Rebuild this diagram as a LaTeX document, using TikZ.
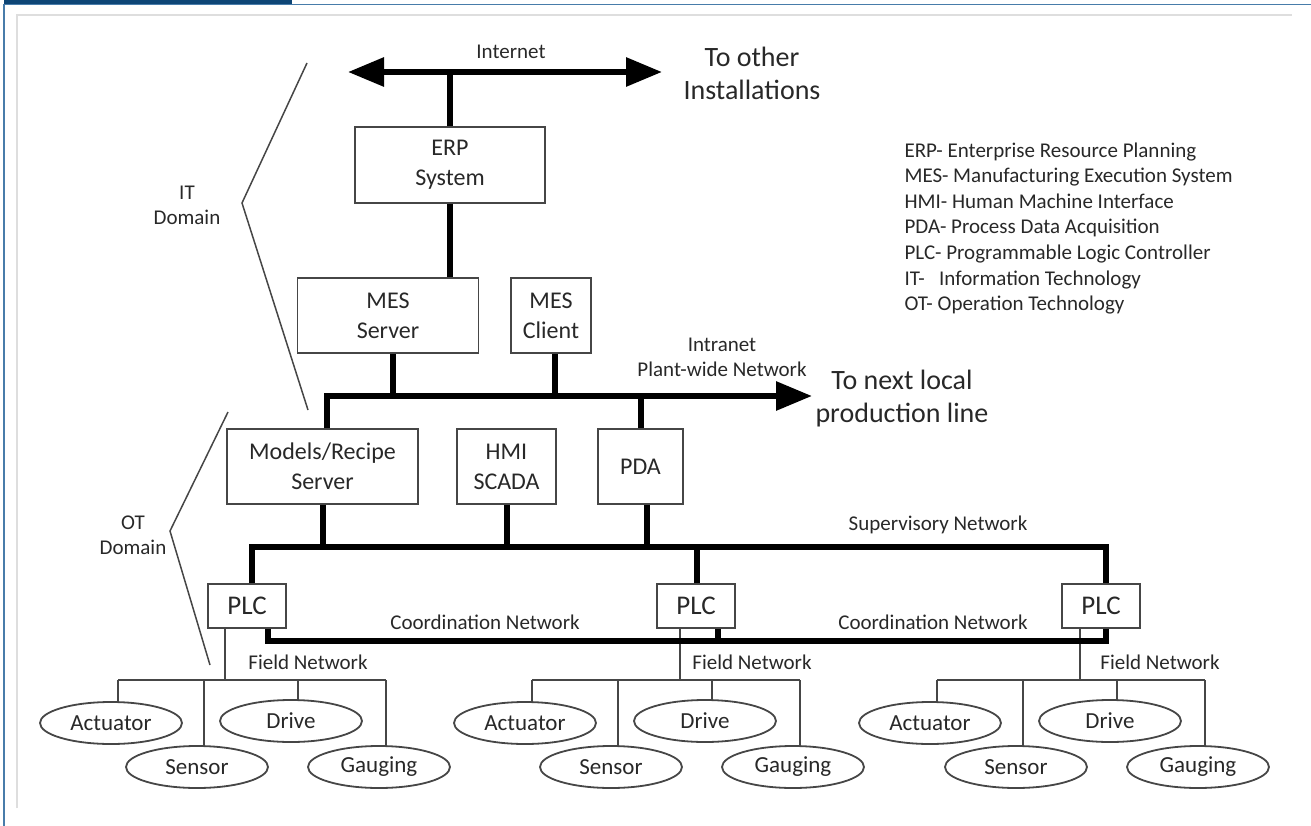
\documentclass[tikz,border=0pt]{standalone}
\usepackage{fontspec}
\setmainfont{Carlito}
\usetikzlibrary{arrows.meta,positioning,shapes.geometric}
\definecolor{navy}{RGB}{14,70,118}
\definecolor{rule}{RGB}{72,124,170}
\definecolor{frame}{RGB}{222,222,222}
\definecolor{ink}{RGB}{40,40,40}
\definecolor{edge}{RGB}{70,70,70}
\tikzset{
  >={Triangle[length=36pt,width=28pt]},
  box/.style={draw=edge,line width=1.8pt,text=ink,align=center,inner sep=0pt,
    font=\fontsize{24}{30}\selectfont},
  plc/.style={box,minimum width=78pt,minimum height=44pt,font=\fontsize{27}{30}\selectfont},
  dev/.style={ellipse,draw=edge,line width=1.8pt,text=ink,minimum width=142pt,
    minimum height=42pt,inner sep=0pt,font=\fontsize{23}{26}\selectfont},
  bus/.style={line width=6pt},
  wire/.style={draw=edge,line width=1.8pt},
  lbl/.style={text=ink,font=\fontsize{21}{25}\selectfont,align=center},
  big/.style={text=ink,font=\fontsize{28}{33}\selectfont,align=center},
  brace/.style={draw=edge,line width=1.5pt},
}
\begin{document}
\begin{tikzpicture}[x=1pt,y=-1pt]
  \useasboundingbox (0,0) rectangle (1311,826);
  % frame
  \fill[navy] (4,0) rectangle (292,5);
  \draw[rule,line width=1.5pt] (4,826) -- (4,4.5) -- (1311,4.5);
  \draw[frame,line width=2pt] (17,808) -- (17,15) -- (1292,15);
  % IT level
  \coordinate (inetL) at (348,72);
  \coordinate (inetR) at (662,72);
  \draw[bus,<->] (inetL) -- (inetR);
  \node[lbl] (inet) at (511,52) {Internet};
  \node[big] (other) at (752,73) {To other\\Installations};
  \node[box,minimum width=190pt,minimum height=76pt] (erp) at (450,165) {ERP\\System};
  \node[box,minimum width=181pt,minimum height=75pt] (messrv) at (388,315.5) {MES\\Server};
  \node[box,minimum width=80pt,minimum height=75pt] (mescli) at (551,315.5) {MES\\Client};
  \draw[bus] (erp.north) -- (erp.north |- inetL);
  \draw[bus] (erp.south) -- (erp.south |- messrv.north);
  % plant-wide network
  \node[box,minimum width=191pt,minimum height=75pt] (recipe) at (322.5,466.5) {Models/Recipe\\Server};
  \node[box,minimum width=99pt,minimum height=75pt] (hmi) at (506.5,466.5) {HMI\\SCADA};
  \node[box,minimum width=85pt,minimum height=75pt] (pda) at (640.5,466.5) {PDA};
  \coordinate (plant) at (812,396);
  \draw[bus,->] ([xshift=4pt]recipe.north) |- (plant);
  \draw[bus] ([xshift=5pt]messrv.south) -- ([xshift=5pt]messrv.south |- plant);
  \draw[bus] ([xshift=4pt]mescli.south) -- ([xshift=4pt]mescli.south |- plant);
  \draw[bus] (pda.north) -- (pda.north |- plant);
  \node[lbl] (intra) at (722,357) {Intranet\\Plant-wide Network};
  \node[big] (next) at (902,399) {To next local\\production line};
  % legend
  \foreach \t [count=\i] in {ERP- Enterprise Resource Planning,
      MES- Manufacturing Execution System, HMI- Human Machine Interface,
      PDA- Process Data Acquisition, PLC- Programmable Logic Controller,
      IT-\ \ \ Information Technology, OT- Operation Technology}
    \node[lbl,anchor=base west] (leg\i) at (901,{132+25.5*\i}) {\t};
  % domains
  \draw[brace] (307,63) -- (242,203) -- (308,410);
  \draw[brace] (228,412) -- (170,531) -- (210,665);
  \node[lbl] (itdom) at (187,205) {IT\\Domain};
  \node[lbl] (otdom) at (133,535) {OT\\Domain};
  % PLCs and field level
  \foreach \g/\p/\f/\a in {A/247/225/118, B/696/680/532, C/1101/1080/937}{
    \node[plc] (plc\g) at (\p,606) {PLC};
    \coordinate (fb\g) at (\f,680);
    \draw[wire] (plc\g.south -| fb\g) -- (fb\g);
    \node[dev] (act\g) at ({\a-7},723) {Actuator};
    \node[dev] (sen\g) at ({\a+79},767) {Sensor};
    \node[dev] (drv\g) at ({\a+173},721) {Drive};
    \node[dev] (gau\g) at ({\a+261},767) {Gauging};
    \foreach \d/\n in {0/act,86/sen,180/drv,268/gau}{
      \coordinate (t\n\g) at ({\a+\d},680);
      \draw[wire] (t\n\g) -- (t\n\g |- \n\g.north);
    }
    \draw[wire] (tact\g) -- (tgau\g);
  }
  \node[lbl] (fnA) at (308,662) {Field Network};
  \node[lbl] (fnB) at (752,662) {Field Network};
  \node[lbl] (fnC) at (1160,662) {Field Network};
  % supervisory network
  \coordinate (sup) at (0,547);
  \draw[bus] ([xshift=5pt]plcA.north) |- ([xshift=5pt]plcC.north |- sup) -- ([xshift=5pt]plcC.north);
  \draw[bus] ([xshift=1pt]plcB.north) -- ([xshift=1pt]plcB.north |- sup);
  \draw[bus] (recipe.south) -- (recipe.south |- sup);
  \draw[bus] (hmi.south) -- (hmi.south |- sup);
  \draw[bus] ([xshift=6pt]pda.south) -- ([xshift=6pt]pda.south |- sup);
  \node[lbl] (supl) at (938,525) {Supervisory Network};
  % coordination network
  \coordinate (crd) at (0,641);
  \draw[bus] ([xshift=21pt]plcA.south) |- ([xshift=5pt]plcC.south |- crd) -- ([xshift=5pt]plcC.south);
  \draw[bus] ([xshift=22pt]plcB.south) -- ([xshift=22pt]plcB.south |- crd);
  \node[lbl] (crdA) at (485,622) {Coordination Network};
  \node[lbl] (crdB) at (933,622) {Coordination Network};
\end{tikzpicture}
\end{document}
